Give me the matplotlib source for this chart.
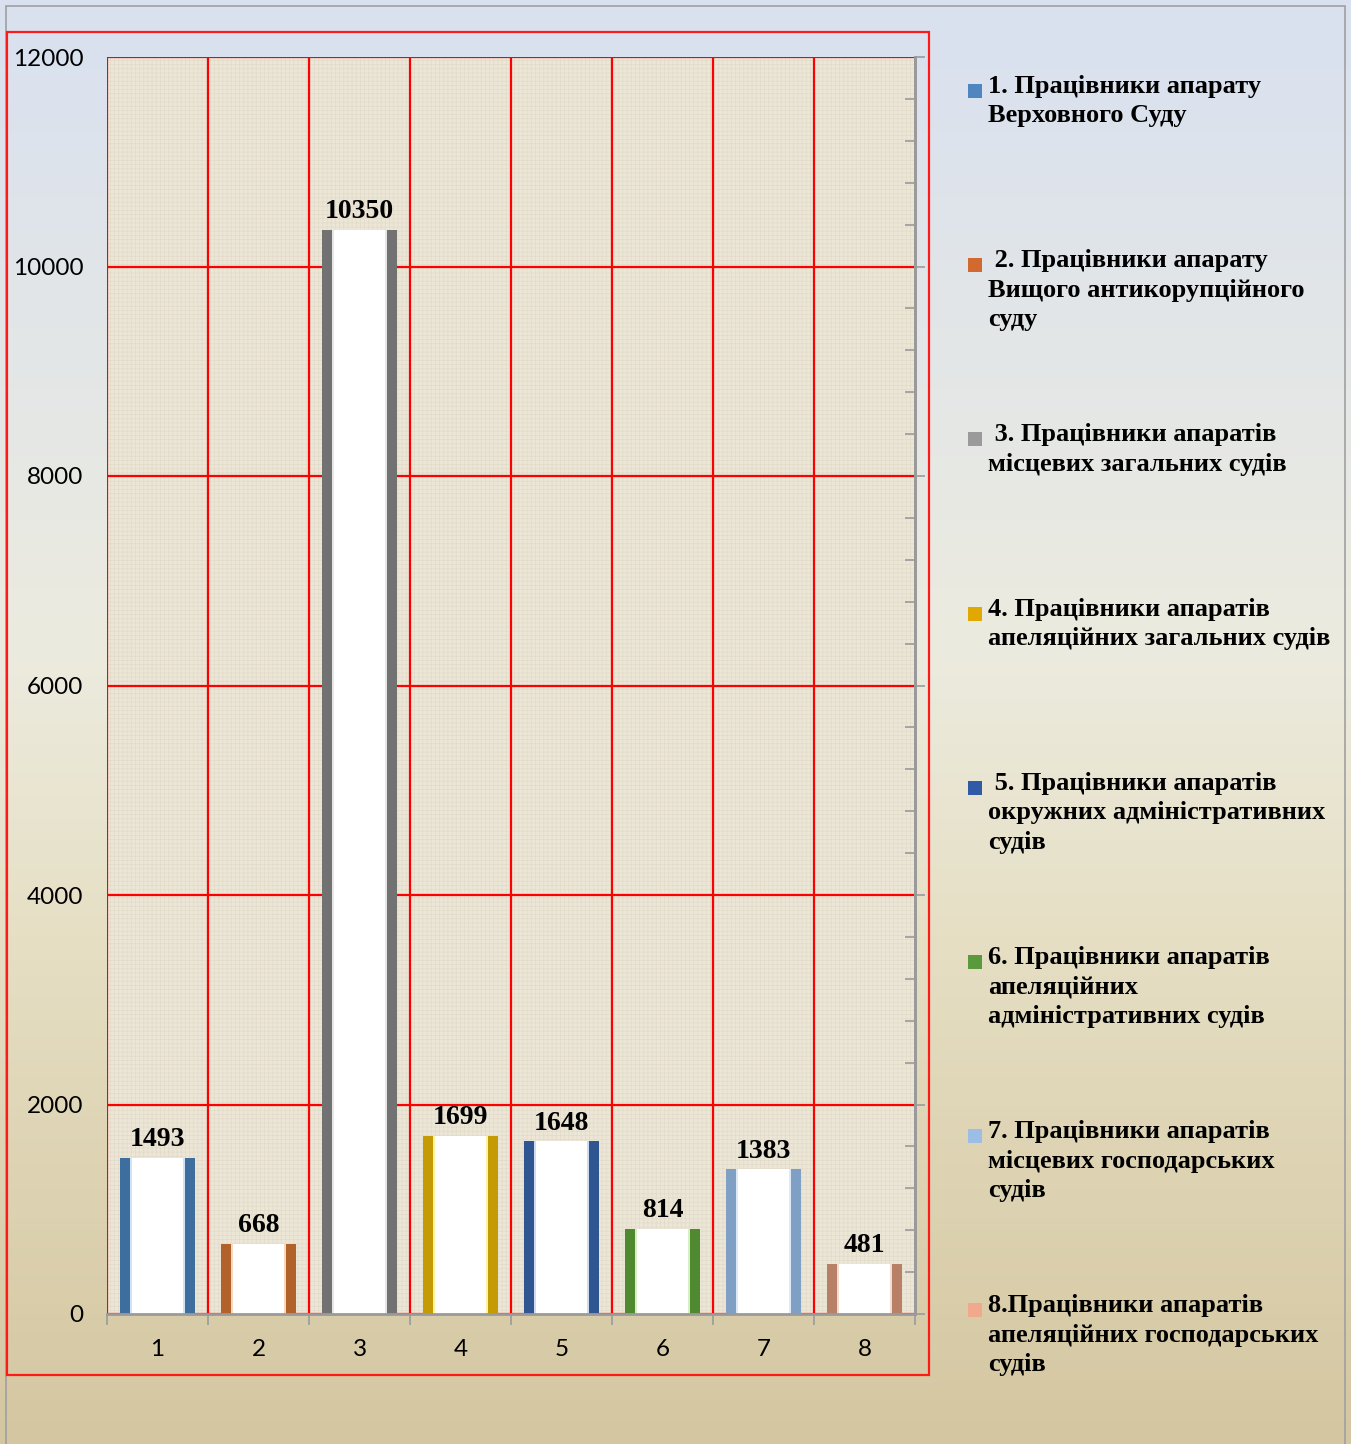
import numpy as np
import matplotlib
matplotlib.use("Agg")
import matplotlib.pyplot as plt
from matplotlib.patches import Rectangle
from matplotlib.colors import LinearSegmentedColormap

categories = ["1", "2", "3", "4", "5", "6", "7", "8"]
values = [1493, 668, 10350, 1699, 1648, 814, 1383, 481]
bar_colors = ["#3d6e9e", "#b3612a", "#727272", "#c49a05", "#2f5690", "#4f8a30", "#7f9fc4", "#b98068"]
bar_light = ["#cfe3f7", "#f7d9bf", "#e6e6e6", "#fff3a0", "#cddcf2", "#d8efc4", "#dde9f6", "#f3ddd2"]
legend_colors = ["#4f86c0", "#d2692e", "#9a9a9a", "#e0a800", "#2f5aa6", "#5a9a3c", "#9cbde4", "#f0a98c"]
legend_labels = [
    "1. Працівники апарату\nВерховного Суду",
    " 2. Працівники апарату\nВищого антикорупційного\nсуду",
    " 3. Працівники апаратів\nмісцевих загальних судів",
    "4. Працівники апаратів\nапеляційних загальних судів",
    " 5. Працівники апаратів\nокружних адміністративних\nсудів",
    "6. Працівники апаратів\nапеляційних\nадміністративних судів",
    "7. Працівники апаратів\nмісцевих господарських\nсудів",
    "8.Працівники апаратів\nапеляційних господарських\nсудів",
]
y_ticks = [0, 2000, 4000, 6000, 8000, 10000, 12000]

W, H = 1351, 1444
plt.rcParams["hatch.linewidth"] = 0.5
fig = plt.figure(figsize=(W / 100, H / 100), dpi=100)

# background gradient
bg = fig.add_axes([0, 0, 1, 1], zorder=-10)
bg.axis("off")
cmap = LinearSegmentedColormap.from_list(
    "bg", [(0.0, "#d4c6a0"), (0.35, "#e6dfc4"), (0.55, "#ecebdf"), (1.0, "#d9e1f0")])
grad = np.linspace(0, 1, 256).reshape(-1, 1)
bg.imshow(grad, aspect="auto", cmap=cmap, origin="lower", extent=[0, 1, 0, 1])
bg.set_xlim(0, 1)
bg.set_ylim(0, 1)

# outer frame and red chart frame
fig.patches.append(Rectangle((6 / W, -0.01), 1339 / W, 1 - 6 / H + 0.01, transform=fig.transFigure,
                             fill=False, edgecolor="#a0a0a0", linewidth=1.2))
fig.patches.append(Rectangle((7 / W, 1 - 1375 / H), 922 / W, 1343 / H, transform=fig.transFigure,
                             fill=False, edgecolor="#ff1a1a", linewidth=1.6))

ax = fig.add_axes([107 / W, 1 - 1314 / H, 808 / W, 1257 / H])
ax.set_facecolor("#ece6d7")
ax.patch.set_hatch("++++")
ax.patch.set_edgecolor("#e2dbca")

x = np.arange(len(categories))
ax.set_xlim(-0.5, len(categories) - 0.5)
ax.set_ylim(0, 12000)

# red grid
for yv in y_ticks:
    ax.axhline(yv, color="#ff0000", linewidth=1.6, zorder=1)
for xv in np.arange(-0.5, len(categories) - 0.4, 1.0)[:-1]:
    ax.axvline(xv, color="#ff0000", linewidth=1.6, zorder=1)

# bars: colored edges, light strip, white centre
ax.bar(x, values, width=0.75, color=bar_colors, zorder=3, linewidth=0)
ax.bar(x, values, width=0.55, color=bar_light, zorder=4, linewidth=0)
ax.bar(x, values, width=0.51, color="white", zorder=4, linewidth=0)
for xi, v in zip(x, values):
    ax.annotate(str(v), (xi, v), xytext=(0, 4), textcoords="offset points",
                ha="center", va="bottom", fontsize=20, fontweight="bold",
                family="Liberation Serif", color="black", zorder=6)

for s in ["left", "top"]:
    ax.spines[s].set_visible(False)
ax.spines["bottom"].set_color("#9a9a9a")
ax.spines["bottom"].set_linewidth(2)
ax.spines["right"].set_color("#9a9a9a")
ax.spines["right"].set_linewidth(2)
ax.spines["bottom"].set_zorder(5)

ax.set_yticks(y_ticks)
ax.set_yticklabels([str(t) for t in y_ticks], family="Lato", fontsize=17.5)
ax.tick_params(axis="y", length=0, pad=17)
ax.set_xticks(np.arange(-0.5, len(categories), 1.0))
ax.set_xticklabels([])
ax.set_xticks(x, minor=True)
ax.set_xticklabels(categories, minor=True, family="Lato", fontsize=17.5)
ax.tick_params(axis="x", which="major", length=8, color="#9a9a9a", width=1.2)
ax.tick_params(axis="x", which="minor", length=0, pad=18)

ax2 = ax.twinx()
ax2.set_ylim(0, 12000)
ax2.set_yticks(y_ticks)
ax2.set_yticks(np.arange(0, 12001, 400), minor=True)
ax2.set_yticklabels([])
ax2.tick_params(axis="y", which="major", direction="out", length=7, color="#9a9a9a", width=1.2)
ax2.tick_params(axis="y", which="minor", direction="in", length=7, color="#9a9a9a", width=1.2)
for s in ["left", "top", "bottom"]:
    ax2.spines[s].set_visible(False)
ax2.spines["right"].set_color("#9a9a9a")
ax2.spines["right"].set_linewidth(2)

# legend drawn by hand
leg_y0 = 91
leg_step = 174.2
for i, (lab, col) in enumerate(zip(legend_labels, legend_colors)):
    yc = leg_y0 + i * leg_step
    fig.patches.append(Rectangle((968 / W, 1 - (yc + 7) / H), 14 / W, 14 / H,
                                 transform=fig.transFigure, color=col, linewidth=0))
    fig.text(988 / W, 1 - (yc - 16) / H, lab, ha="left", va="top", fontsize=19,
             fontweight="bold", family="Liberation Serif", linespacing=1.36)

fig.savefig("out.png", dpi=100)
